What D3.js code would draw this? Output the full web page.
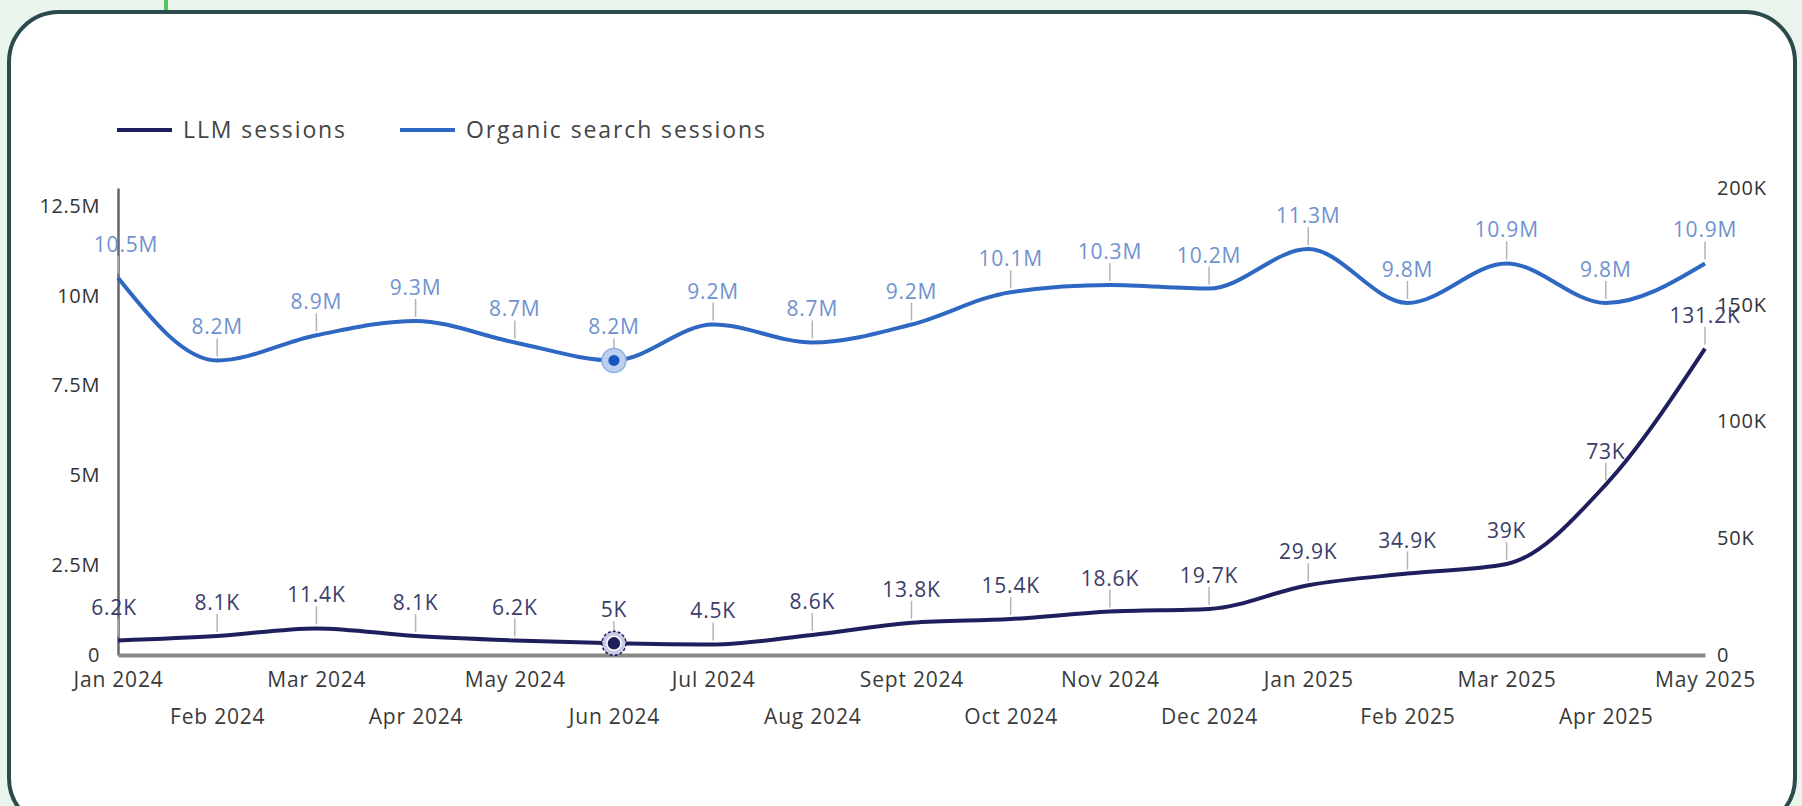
<!DOCTYPE html>
<html>
<head>
<meta charset="utf-8">
<script src="https://cdn.jsdelivr.net/npm/d3@7"></script>
<style>
  html, body { margin: 0; padding: 0; background: #e9f4ec; }
  svg { display: block; font-family: "Open Sans", sans-serif; }
</style>
</head>
<body>
<svg id="chart"></svg>
<script>
// data
const months = ['Jan 2024', 'Feb 2024', 'Mar 2024', 'Apr 2024', 'May 2024', 'Jun 2024',
  'Jul 2024', 'Aug 2024', 'Sept 2024', 'Oct 2024', 'Nov 2024', 'Dec 2024',
  'Jan 2025', 'Feb 2025', 'Mar 2025', 'Apr 2025', 'May 2025'];
const llmSessions = [6200, 8100, 11400, 8100, 6200, 5000, 4500, 8600, 13800, 15400,
  18600, 19700, 29900, 34900, 39000, 73000, 131200];
const organicSessions = [10.5e6, 8.2e6, 8.9e6, 9.3e6, 8.7e6, 8.2e6, 9.2e6, 8.7e6, 9.2e6,
  10.1e6, 10.3e6, 10.2e6, 11.3e6, 9.8e6, 10.9e6, 9.8e6, 10.9e6];
const leftTicks = [0, 2.5e6, 5e6, 7.5e6, 10e6, 12.5e6];
const rightTicks = [0, 50000, 100000, 150000, 200000];
const seriesNames = ['LLM sessions', 'Organic search sessions'];
const highlightIndex = 5;

const W = 1802, H = 806;
const llmColor = '#1e1f5c', organicColor = '#2f68c2';

const svg = d3.select('#chart').attr('width', W).attr('height', H);

// card
svg.append('line')
    .attr('x1', 166).attr('x2', 166).attr('y1', 0).attr('y2', 12)
    .attr('stroke', '#5cc25c').attr('stroke-width', 4);
svg.append('rect')
    .attr('x', 9).attr('y', 12).attr('width', W - 16).attr('height', H + 10)
    .attr('rx', 50)
    .attr('fill', '#fff').attr('stroke', '#2c4a4c').attr('stroke-width', 4);

const plot = {left: 118, right: 1705, top: 188, bottom: 655};

const xScale = d3.scalePoint().domain(months).range([plot.left, plot.right]);
const yLeft = d3.scaleLinear().domain([0, 13e6]).range([plot.bottom, plot.top]);
const yRight = d3.scaleLinear().domain([0, 200000]).range([plot.bottom, plot.top]);

const fmtM = d => d === 0 ? '0' : (+(d / 1e6).toFixed(1)) + 'M';
const fmtK = d => d === 0 ? '0' : (+(d / 1e3).toFixed(1)) + 'K';

// left axis
const leftAxisG = svg.append('g')
    .attr('transform', `translate(${plot.left},0)`)
    .call(d3.axisLeft(yLeft).tickValues(leftTicks).tickFormat(fmtM).tickSize(0).tickPadding(18));
leftAxisG.select('.domain').attr('stroke', '#666').attr('stroke-width', 2.5);
leftAxisG.selectAll('text').attr('font-size', 20).attr('fill', '#333')
    .attr('font-family', '"Open Sans", sans-serif').attr('letter-spacing', 0.6);

// right axis
const rightAxisG = svg.append('g')
    .attr('transform', `translate(${plot.right},0)`)
    .call(d3.axisRight(yRight).tickValues(rightTicks).tickFormat(fmtK).tickSize(0).tickPadding(12));
rightAxisG.select('.domain').remove();
rightAxisG.selectAll('text').attr('font-size', 20).attr('fill', '#333')
    .attr('font-family', '"Open Sans", sans-serif').attr('letter-spacing', 0.8);

// x axis, labels on two alternating rows
const xAxisG = svg.append('g')
    .attr('transform', `translate(0,${plot.bottom})`)
    .call(d3.axisBottom(xScale).tickSize(0).tickPadding(0));
xAxisG.select('.domain').attr('stroke', '#888').attr('stroke-width', 4);
xAxisG.selectAll('text')
    .attr('font-size', 21).attr('fill', '#3a3a3a').attr('letter-spacing', 0.8)
    .attr('font-family', '"Open Sans", sans-serif')
    .attr('dy', '0')
    .attr('y', (d, i) => i % 2 === 0 ? 32 : 69);

// lines
const rows = months.map((m, i) => ({m, llm: llmSessions[i], org: organicSessions[i]}));

const orgLine = d3.line().x(d => xScale(d.m)).y(d => yLeft(d.org)).curve(d3.curveMonotoneX);
const llmLine = d3.line().x(d => xScale(d.m)).y(d => yRight(d.llm)).curve(d3.curveMonotoneX);

svg.append('path').datum(rows).attr('d', orgLine)
    .attr('fill', 'none').attr('stroke', organicColor).attr('stroke-width', 4);
svg.append('path').datum(rows).attr('d', llmLine)
    .attr('fill', 'none').attr('stroke', llmColor).attr('stroke-width', 4);

// data labels with leader ticks
function addLabels(cls, yFn, fmt, color, firstShift) {
  const g = svg.append('g').attr('class', cls);
  g.selectAll('line').data(rows).join('line')
      .attr('x1', d => xScale(d.m)).attr('x2', d => xScale(d.m))
      .attr('y1', d => yFn(d) - 4).attr('y2', d => yFn(d) - 22)
      .attr('stroke', '#b5b5b5').attr('stroke-width', 1.5);
  g.selectAll('text').data(rows).join('text')
      .attr('x', (d, i) => xScale(d.m) + (i === 0 ? firstShift : 0))
      .attr('y', d => yFn(d) - 26)
      .attr('text-anchor', 'middle')
      .attr('font-size', 21).attr('letter-spacing', 0.8)
      .attr('fill', color)
      .text(fmt);
}
addLabels('org-labels', d => yLeft(d.org), d => fmtM(d.org), '#7092d0', 8);
addLabels('llm-labels', d => yRight(d.llm), d => fmtK(d.llm), '#3b3d6a', -4);

// highlighted month markers
const hx = xScale(months[highlightIndex]);
const hOrg = yLeft(organicSessions[highlightIndex]);
const hLlm = yRight(llmSessions[highlightIndex]);
svg.append('circle').attr('cx', hx).attr('cy', hOrg).attr('r', 12)
    .attr('fill', '#bcd0f0').attr('stroke', '#8fb0e6').attr('stroke-width', 1.5);
svg.append('circle').attr('cx', hx).attr('cy', hOrg).attr('r', 5.5).attr('fill', '#1656c0');
svg.append('circle').attr('cx', hx).attr('cy', hLlm).attr('r', 12)
    .attr('fill', '#c8cbe6').attr('stroke', llmColor).attr('stroke-width', 1.5)
    .attr('stroke-dasharray', '3,2');
svg.append('circle').attr('cx', hx).attr('cy', hLlm).attr('r', 7)
    .attr('fill', llmColor).attr('stroke', '#fff').attr('stroke-width', 1.5);

// legend
const legend = svg.append('g').attr('transform', 'translate(117,130)');
const legendX = [0, 283];
const legendColors = [llmColor, organicColor];
seriesNames.forEach((name, i) => {
  const g = legend.append('g').attr('transform', `translate(${legendX[i]},0)`);
  g.append('line').attr('x1', 0).attr('x2', 55).attr('y1', 0).attr('y2', 0)
      .attr('stroke', legendColors[i]).attr('stroke-width', 4);
  g.append('text').attr('x', 66).attr('y', 0).attr('dy', '0.35em')
      .attr('font-size', 23).attr('fill', '#444').attr('letter-spacing', 1.9)
      .text(name);
});
</script>
</body>
</html>
